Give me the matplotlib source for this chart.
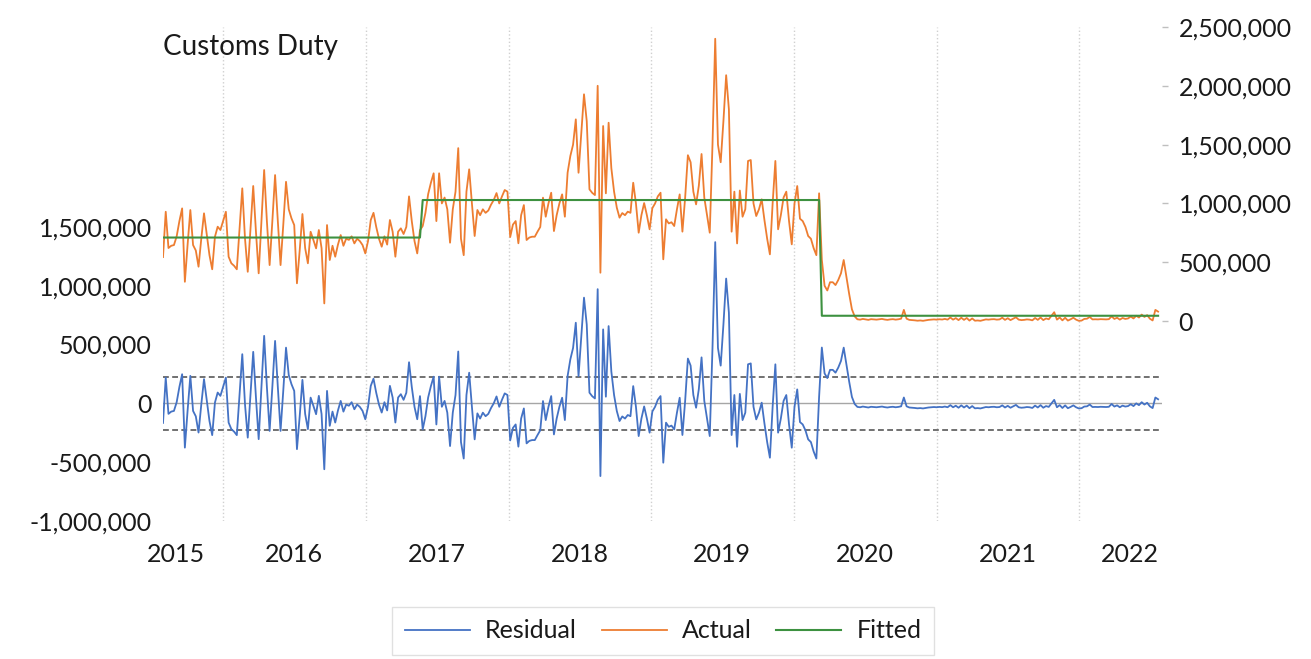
import numpy as np
import pandas as pd
import matplotlib
matplotlib.use("Agg")
import matplotlib.pyplot as plt
import matplotlib.dates as mdates
from matplotlib.ticker import FuncFormatter, FixedLocator, FixedFormatter, NullFormatter

# weekly observations, values in thousands
start = "2015-07-31"
actual_k = [
    544, 929, 621, 640, 646, 720, 850, 958, 334, 650,
    944, 646, 600, 462, 700, 916, 740, 560, 440, 717,
    802, 774, 850, 929, 547, 491, 470, 440, 780, 1128,
    700, 419, 780, 1148, 760, 406, 850, 1284, 850, 476,
    850, 1241, 850, 476, 820, 1184, 950, 873, 816, 321,
    600, 910, 620, 491, 759, 690, 618, 774, 620, 150,
    816, 519, 640, 547, 650, 731, 640, 700, 690, 720,
    660, 700, 680, 646, 575, 680, 859, 920, 800, 700,
    632, 720, 650, 859, 760, 547, 760, 788, 740, 800,
    1060, 850, 680, 575, 772, 808, 920, 1080, 1176, 1256,
    850, 1256, 1000, 1050, 950, 666, 950, 1100, 1470, 700,
    560, 1100, 1290, 1000, 723, 944, 900, 950, 920, 940,
    990, 1030, 1088, 1000, 1060, 1114, 1100, 714, 820, 850,
    661, 900, 986, 689, 710, 717, 717, 760, 800, 1049,
    887, 1000, 1091, 765, 900, 1000, 1077, 887, 1261, 1403,
    1500, 1715, 1261, 1600, 1928, 1700, 1120, 1090, 1071, 2000,
    411, 1658, 1086, 1686, 1300, 1100, 964, 879, 918, 900,
    930, 920, 1176, 1000, 751, 900, 1003, 900, 780, 960,
    1000, 1060, 1091, 525, 865, 830, 840, 808, 950, 1077,
    760, 1050, 1410, 1350, 1100, 992, 1150, 1420, 1050, 900,
    751, 1500, 2400, 1500, 1350, 1700, 2090, 1800, 760, 1100,
    660, 1110, 887, 950, 1361, 1369, 1000, 893, 950, 1035,
    859, 700, 567, 1000, 1361, 780, 900, 1050, 1100, 850,
    652, 1000, 1148, 870, 850, 800, 723, 700, 620, 560,
    1086, 520, 300, 260, 330, 330, 306, 349, 406, 519,
    377, 230, 100, 40, 15, 12, 18, 14, 10, 16,
    14, 12, 15, 18, 13, 10, 14, 16, 12, 15,
    20, 95, 20, 10, 8, 6, 3, 5, 2, 6,
    10, 12, 14, 12, 15, 13, 18, 12, 30, 12,
    25, 8, 28, 10, 26, 4, 22, 3, 5, 2,
    8, 14, 12, 15, 16, 12, 14, 28, 10, 24,
    8, 20, 32, 12, 8, 10, 14, 12, 6, 26,
    10, 30, 8, 22, 15, 45, 75, 12, 30, 6,
    28, 4, 15, 28, 12, 2, 4, 18, 20, 35,
    14, 15, 14, 16, 15, 14, 16, 40, 18, 28,
    12, 26, 18, 22, 38, 22, 45, 30, 55, 35,
    50, 20, 5, 95, 80,
]
fitted_levels_k = [710, 1029, 45]
fitted_breaks = ["2017-05-26", "2020-03-13"]
se_band = 225000

left_ticks = [-1000000, -500000, 0, 500000, 1000000, 1500000]
right_ticks = [0, 500000, 1000000, 1500000, 2000000, 2500000]
year_labels = ["2015", "2016", "2017", "2018", "2019", "2020", "2021", "2022"]
label_dates = ["2015-09-02", "2016-07-01", "2017-07-02", "2018-07-02",
               "2019-07-02", "2020-07-01", "2021-07-02", "2022-05-12"]

dates = pd.date_range(start, periods=len(actual_k), freq="7D")
actual = np.array(actual_k) * 1000.0
fitted = np.full(len(dates), fitted_levels_k[0] * 1000.0)
for lvl, b in zip(fitted_levels_k[1:], fitted_breaks):
    fitted[dates >= pd.Timestamp(b)] = lvl * 1000.0
resid = actual - fitted

plt.rcParams["font.family"] = ["Lato", "DejaVu Sans"]
txt = "#1a1a1a"

W, H = 1311, 659
fig = plt.figure(figsize=(W / 100, H / 100), dpi=100)
ax = fig.add_axes([163 / W, (H - 521) / H, 999 / W, 494 / H])
ax2 = ax.twinx()

c_res = "#4472C4"
c_act = "#ED7D31"
c_fit = "#3D9140"

ax.axhline(0, color="#a6a6a6", lw=1.0, zorder=1)
ax.axhline(se_band, color="#595959", lw=1.2, ls=(0, (3.5, 2)), zorder=1)
ax.axhline(-se_band, color="#595959", lw=1.2, ls=(0, (3.5, 2)), zorder=1)
l_res, = ax.plot(dates, resid, color=c_res, lw=1.3, zorder=3, label="Residual")
l_act, = ax2.plot(dates, actual, color=c_act, lw=1.3, zorder=2, label="Actual")
l_fit, = ax2.plot(dates, fitted, color=c_fit, lw=1.5, zorder=3, label="Fitted")

ax.set_xlim(dates[0], dates[-1] + pd.Timedelta(days=10))
ax.set_ylim(-1.0e6, 3.2e6)
ax2.set_ylim(-1.7e6, 2.5e6)

fmt = FuncFormatter(lambda v, p: f"{v:,.0f}")
ax.yaxis.set_major_locator(FixedLocator(left_ticks))
ax.yaxis.set_major_formatter(fmt)
ax2.yaxis.set_major_locator(FixedLocator(right_ticks))
ax2.yaxis.set_major_formatter(fmt)
ax.tick_params(axis="y", length=0, pad=8, labelsize=18, labelcolor=txt)
ax2.tick_params(axis="y", length=4, width=1, color="#bfbfbf", pad=8,
                labelsize=18, labelcolor=txt)

ax.xaxis.set_major_locator(mdates.YearLocator())
ax.xaxis.set_major_formatter(NullFormatter())
ax.xaxis.set_minor_locator(FixedLocator(mdates.date2num(pd.to_datetime(label_dates))))
ax.xaxis.set_minor_formatter(FixedFormatter(year_labels))
ax.tick_params(axis="x", which="both", length=0)
ax.tick_params(axis="x", which="minor", pad=16, labelsize=18, labelcolor=txt)
ax.grid(axis="x", which="major", color="#d0d0d0", ls=":", lw=1.0)
ax.set_axisbelow(True)

for a in (ax, ax2):
    for s in a.spines.values():
        s.set_visible(False)

fig.text(163 / W, 1 - 47 / H, "Customs Duty", fontsize=20, color=txt,
         ha="left", va="center")

leg = fig.legend([l_res, l_act, l_fit], ["Residual", "Actual", "Fitted"],
                 loc="center", bbox_to_anchor=(663 / W, 1 - 631 / H), ncol=3,
                 frameon=True, fancybox=False, edgecolor="#d9d9d9", fontsize=18,
                 handlelength=2.6, handletextpad=0.6, columnspacing=1.0,
                 borderpad=0.5, labelcolor=txt)
leg.get_frame().set_linewidth(1.0)

fig.savefig("out.png", dpi=100)
